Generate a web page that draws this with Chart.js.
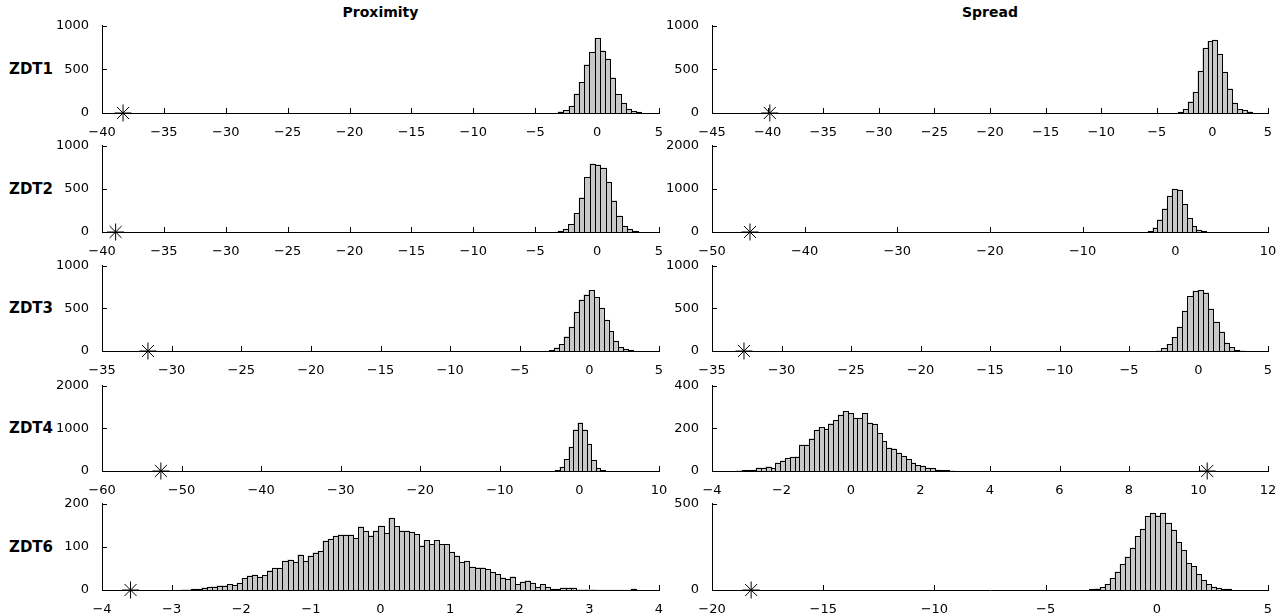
<!DOCTYPE html>
<html>
<head>
<meta charset="utf-8">
<title>ZDT proximity / spread histograms</title>
<script src="https://cdn.jsdelivr.net/npm/chart.js@4.4.1/dist/chart.umd.min.js"></script>
<style>
  html, body { margin: 0; padding: 0; background: #fff; }
  #page { position: relative; width: 1287px; height: 616px; overflow: hidden; font-family: "DejaVu Sans", sans-serif; color: #000; }
  #page canvas { position: absolute; }
  .title { position: absolute; font-weight: bold; font-size: 14px; transform: translate(-50%, -50%); white-space: nowrap; }
  .rowlabel { position: absolute; left: 9px; font-weight: bold; font-size: 15px; transform: translateY(-50%); }
</style>
</head>
<body>
<div id="page"></div>
<script>
// bins: centre of the first bin + bin width; counts
const zdt1ProxBins = { start: -2.94, width: 0.42 };
const zdt1ProxCounts = [15, 30, 80, 220, 350, 555, 700, 860, 715, 620, 405, 215, 113, 45, 19, 11];
const zdt1SpreadBins = { start: -2.86, width: 0.44 };
const zdt1SpreadCounts = [10, 42, 130, 240, 480, 745, 820, 835, 675, 470, 280, 117, 42, 30, 15];

const zdt2ProxBins = { start: -2.96, width: 0.43 };
const zdt2ProxCounts = [10, 35, 88, 215, 400, 635, 790, 778, 743, 580, 365, 188, 70, 30, 12];
const zdt2SpreadBins = { start: -2.715, width: 0.525 };
const zdt2SpreadCounts = [15, 100, 290, 545, 835, 995, 973, 645, 315, 138, 46, 15];

const zdt3ProxBins = { start: -2.72, width: 0.356 };
const zdt3ProxCounts = [8, 40, 78, 170, 283, 457, 600, 663, 713, 628, 504, 364, 229, 116, 43, 23, 8];
const zdt3SpreadBins = { start: -2.85, width: 0.374 };
const zdt3SpreadCounts = [4, 30, 78, 159, 283, 469, 643, 702, 713, 686, 496, 341, 225, 97, 43, 8, 5];

const zdt4ProxBins = { start: -2.775, width: 0.565 };
const zdt4ProxCounts = [15, 93, 272, 568, 973, 1136, 973, 630, 249, 70, 15];
const zdt4SpreadBins = { start: -3.22, width: 0.139 };
const zdt4SpreadCounts = [2, 3, 3, 4, 15, 15, 21, 14, 38, 48, 59, 65, 68, 123, 123, 152, 192, 205, 198, 223,
  238, 264, 280, 270, 248, 248, 270, 226, 220, 177, 139, 109, 105, 85, 70, 55, 38, 26, 24, 15, 14, 6, 3, 3, 2];

const zdt6ProxBins = { start: -2.824, width: 0.0726 };
const zdt6ProxCounts = [1, 1, 2, 2, 5, 7, 8, 10, 10, 13, 11, 16, 27, 33, 35, 30, 34, 45, 51, 51,
  67, 70, 65, 82, 67, 79, 87, 90, 114, 118, 125, 128, 128, 128, 120, 147, 136, 126, 137, 149,
  132, 167, 148, 137, 137, 134, 129, 103, 115, 106, 115, 106, 106, 88, 80, 64, 67, 54, 52, 52,
  48, 41, 36, 29, 25, 31, 13, 19, 22, 16, 7, 13, 7, 2, 2, 5, 5, 5, 1, 1,
  1, 1, 0, 0, 0, 0, 0, 0, 0, 3];
const zdt6SpreadBins = { start: -2.916, width: 0.228 };
const zdt6SpreadCounts = [3, 8, 17, 33, 67, 105, 149, 192, 245, 312, 354, 427, 446, 431, 446, 389, 349, 278,
  230, 155, 138, 90, 56, 33, 19, 11, 5, 5];

// value of the asterisk marker on each axis
const starProx = [-38.3, -38.9, -31.7, -52.6, -3.59];
const starSpread = [-39.8, -45.9, -32.7, 10.25, -18.24];

// tick labels
const xTicksProx = [
  [-40, -35, -30, -25, -20, -15, -10, -5, 0, 5],
  [-40, -35, -30, -25, -20, -15, -10, -5, 0, 5],
  [-35, -30, -25, -20, -15, -10, -5, 0, 5],
  [-60, -50, -40, -30, -20, -10, 0, 10],
  [-4, -3, -2, -1, 0, 1, 2, 3, 4]
];
const xTicksSpread = [
  [-45, -40, -35, -30, -25, -20, -15, -10, -5, 0, 5],
  [-50, -40, -30, -20, -10, 0, 10],
  [-35, -30, -25, -20, -15, -10, -5, 0, 5],
  [-4, -2, 0, 2, 4, 6, 8, 10, 12],
  [-20, -15, -10, -5, 0, 5]
];
const yTicksProx = [[0, 500, 1000], [0, 500, 1000], [0, 500, 1000], [0, 1000, 2000], [0, 100, 200]];
const yTicksSpread = [[0, 500, 1000], [0, 1000, 2000], [0, 500, 1000], [0, 200, 400], [0, 500]];

const problems = ["ZDT1", "ZDT2", "ZDT3", "ZDT4", "ZDT6"];
const columnTitles = ["Proximity", "Spread"];

const proxBins = [zdt1ProxBins, zdt2ProxBins, zdt3ProxBins, zdt4ProxBins, zdt6ProxBins];
const proxCounts = [zdt1ProxCounts, zdt2ProxCounts, zdt3ProxCounts, zdt4ProxCounts, zdt6ProxCounts];
const spreadBins = [zdt1SpreadBins, zdt2SpreadBins, zdt3SpreadBins, zdt4SpreadBins, zdt6SpreadBins];
const spreadCounts = [zdt1SpreadCounts, zdt2SpreadCounts, zdt3SpreadCounts, zdt4SpreadCounts, zdt6SpreadCounts];

// plot boxes in page pixels
const colLeft = [102, 712];
const colWidth = [557, 556];
const rowTop = [25, 145, 265, 385, 503];
const rowHeight = [88, 87, 86, 86, 87];

const PAD_L = 60, PAD_T = 12, PAD_R = 20, PAD_B = 24;
const tickFont = { family: "DejaVu Sans", size: 13 };
const page = document.getElementById("page");

// matlab look: inward ticks under the bars, 1px outlines shared between bars
const matlabLook = {
  id: "matlabLook",
  beforeDatasetsDraw(chart) {
    const { ctx, chartArea: a, scales: { x, y } } = chart;
    ctx.save();
    ctx.strokeStyle = "#000";
    ctx.lineWidth = 1;
    ctx.beginPath();
    x.ticks.forEach((t) => {
      const px = Math.round(x.getPixelForValue(t.value)) + 0.5;
      ctx.moveTo(px, a.bottom);
      ctx.lineTo(px, a.bottom - 5);
    });
    y.ticks.forEach((t) => {
      const py = Math.round(y.getPixelForValue(t.value)) + 0.5;
      ctx.moveTo(a.left, py);
      ctx.lineTo(a.left + 5, py);
    });
    ctx.stroke();
    ctx.restore();
  },
  afterDatasetDraw(chart, args) {
    if (args.meta.type !== "bar") return;
    const ctx = chart.ctx;
    ctx.save();
    ctx.strokeStyle = "#000";
    ctx.lineWidth = 1;
    args.meta.data.forEach((bar) => {
      const { x, y, base, width } = bar.getProps(["x", "y", "base", "width"], true);
      const l = Math.round(x - width / 2) + 0.5;
      const r = Math.round(x + width / 2) + 0.5;
      const t = Math.round(y) + 0.5;
      const b = Math.round(base) + 0.5;
      ctx.strokeRect(l, t, r - l, b - t);
    });
    ctx.restore();
  }
};

const fmt = (v) => (v < 0 ? "\u2212" + Math.abs(v) : String(v));

function panel(col, row, bins, counts, star, xTicks, yTicks) {
  const w = PAD_L + colWidth[col] + PAD_R;
  const h = PAD_T + rowHeight[row] + PAD_B;
  const canvas = document.createElement("canvas");
  canvas.width = w;
  canvas.height = h;
  canvas.style.left = (colLeft[col] - PAD_L) + "px";
  canvas.style.top = (rowTop[row] - PAD_T) + "px";
  canvas.style.width = w + "px";
  canvas.style.height = h + "px";
  page.appendChild(canvas);

  const hist = counts.map((n, i) => ({ x: bins.start + i * bins.width, y: n }));

  new Chart(canvas, {
    data: {
      datasets: [
        {
          type: "scatter",
          data: [{ x: star, y: 0 }],
          pointStyle: "star",
          pointRadius: 8.5,
          pointBorderColor: "#000",
          pointBorderWidth: 1,
          pointBackgroundColor: "#000",
          clip: false,
          order: 0
        },
        {
          type: "bar",
          data: hist,
          backgroundColor: "#c8c8c8",
          borderWidth: 0,
          barPercentage: 1,
          categoryPercentage: 1,
          grouped: false,
          order: 1
        }
      ]
    },
    options: {
      responsive: false,
      animation: false,
      devicePixelRatio: 1,
      events: [],
      layout: { autoPadding: false, padding: { left: 0, top: PAD_T, right: PAD_R, bottom: 0 } },
      plugins: { legend: { display: false }, tooltip: { enabled: false } },
      scales: {
        x: {
          type: "linear",
          offset: false,
          min: xTicks[0],
          max: xTicks[xTicks.length - 1],
          afterBuildTicks: (s) => { s.ticks = xTicks.map((v) => ({ value: v })); },
          afterFit: (s) => { s.height = PAD_B; },
          grid: { display: false },
          border: { display: true, color: "#000", width: 1 },
          ticks: { autoSkip: false, maxRotation: 0, padding: 4, color: "#000", font: tickFont, callback: fmt }
        },
        y: {
          type: "linear",
          min: yTicks[0],
          max: yTicks[yTicks.length - 1],
          afterBuildTicks: (s) => { s.ticks = yTicks.map((v) => ({ value: v })); },
          afterFit: (s) => { s.width = PAD_L; },
          grid: { display: false },
          border: { display: true, color: "#000", width: 1 },
          ticks: { autoSkip: false, padding: 5, color: "#000", font: tickFont, callback: fmt }
        }
      }
    },
    plugins: [matlabLook]
  });
}

columnTitles.forEach((t, c) => {
  const d = document.createElement("div");
  d.className = "title";
  d.textContent = t;
  d.style.left = (colLeft[c] + colWidth[c] / 2) + "px";
  d.style.top = "12px";
  page.appendChild(d);
});

problems.forEach((name, r) => {
  const d = document.createElement("div");
  d.className = "rowlabel";
  d.textContent = name;
  d.style.top = (rowTop[r] + rowHeight[r] / 2) + "px";
  page.appendChild(d);

  panel(0, r, proxBins[r], proxCounts[r], starProx[r], xTicksProx[r], yTicksProx[r]);
  panel(1, r, spreadBins[r], spreadCounts[r], starSpread[r], xTicksSpread[r], yTicksSpread[r]);
});
</script>
</body>
</html>
